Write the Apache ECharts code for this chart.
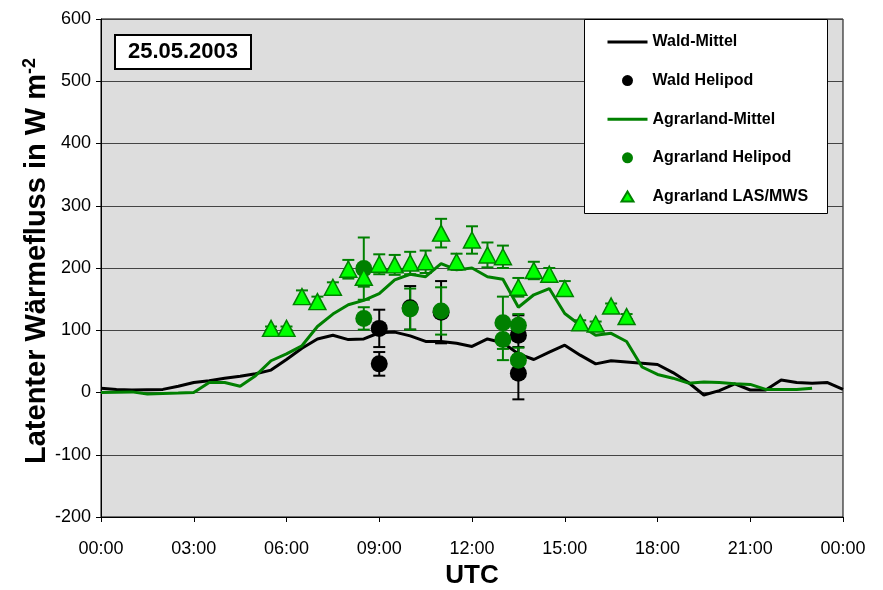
<!DOCTYPE html>
<html>
<head>
<meta charset="utf-8">
<script src="https://cdn.jsdelivr.net/npm/echarts@6/dist/echarts.min.js"></script>
<style>html,body{margin:0;padding:0;background:#fff}#c{width:883px;height:590px}</style>
</head>
<body>
<div id="c"></div>
<script>
// ---------- data ----------
const timeLabels = ['00:00','00:30','01:00','01:30','02:00','02:30','03:00','03:30','04:00','04:30',
  '05:00','05:30','06:00','06:30','07:00','07:30','08:00','08:30','09:00','09:30',
  '10:00','10:30','11:00','11:30','12:00','12:30','13:00','13:30','14:00','14:30',
  '15:00','15:30','16:00','16:30','17:00','17:30','18:00','18:30','19:00','19:30',
  '20:00','20:30','21:00','21:30','22:00','22:30','23:00','23:30','24:00'];
const waldMittel = [7,5,4,4.5,5,10,16,19,23,26,
  30,36,53,71,86,92,85,86,96,97,
  91,82,82,79,74,86,80,62,53,65,
  76,60,46,51,49,47,45,32,16,-4,
  3,14,4,4,20,16,15,16,5];
const agrarMittel = [0,0.5,1,-2.5,-1.5,-1,0,16,16,10,
  27,51,62,75,106,126,141,148,159,181,
  190,186,207,197,200,186,182,137,157,167,
  127,108,92,95,82,41,29,23,15,17,
  16,14,13,5,5,5,7,null,6];

const waldHeliTimes = ['09:00','09:00','10:00','11:00','13:30','13:30'];
const waldHeliValues = [103,46,136,129,92,31];
const waldHeliErr = [30,19,35,50,32,42];

const agrarHeliTimes = ['08:30','08:30','10:00','11:00','13:00','13:00','13:30','13:30'];
const agrarHeliValues = [199,119,134,131,112,85,108,52];
const agrarHeliErr = [50,18,33,38,42,33,18,20];

const lasTimes = ['05:30','06:00','06:30','07:00','07:30','08:00','08:30','09:00','09:30','10:00',
  '10:30','11:00','11:30','12:00','12:30','13:00','13:30','14:00','14:30','15:00',
  '15:30','16:00','16:30','17:00'];
const lasValues = [103,103,154,146,169,198,185,206,205,208,
  210,256,210,245,221,218,169,196,190,167,
  112,110,139,122];
const lasErr = [3,3,10,8,8,15,15,16,16,18,
  18,23,13,22,20,18,15,14,10,12,
  4,4,4,4];

const yTicks = [-200,-100,0,100,200,300,400,500,600];
const xTickLabels = ['00:00','03:00','06:00','09:00','12:00','15:00','18:00','21:00','00:00'];

// ---------- helpers ----------
const toH = t => { const p = t.split(':'); return parseInt(p[0],10) + parseInt(p[1],10)/60; };
const FONT = "'Liberation Sans', Arial, sans-serif";
const DKGREEN = '#008000';

function errSeries(times, vals, errs, color) {
  return {
    type: 'custom', silent: true, z: 2,
    renderItem: function (params, api) {
      const x = api.value(0), y = api.value(1), e = api.value(2);
      const t = api.coord([x, y + e]), b = api.coord([x, y - e]);
      const hw = 6;
      const st = { stroke: color, lineWidth: 2 };
      return { type: 'group', children: [
        { type: 'line', shape: { x1: t[0], y1: t[1], x2: b[0], y2: b[1] }, style: st },
        { type: 'line', shape: { x1: t[0]-hw, y1: t[1], x2: t[0]+hw, y2: t[1] }, style: st },
        { type: 'line', shape: { x1: b[0]-hw, y1: b[1], x2: b[0]+hw, y2: b[1] }, style: st }
      ]};
    },
    encode: { x: 0, y: 1 },
    data: times.map((t, i) => [toH(t), vals[i], errs[i]])
  };
}

const chart = echarts.init(document.getElementById('c'), null, { renderer: 'canvas' });
chart.setOption({
  animation: false,
  backgroundColor: '#ffffff',
  textStyle: { fontFamily: FONT },
  grid: { left: 101, top: 19, right: 40, bottom: 73, outerBoundsMode: 'none', containLabel: false,
    show: true, backgroundColor: '#DDDDDD', borderColor: '#000', borderWidth: 1 },
  xAxis: {
    type: 'value', min: 0, max: 24, interval: 3,
    name: 'UTC', nameLocation: 'middle', nameGap: 46, nameMoveOverlap: false,
    nameTextStyle: { fontFamily: FONT, fontSize: 26, fontWeight: 'bold', color: '#000' },
    axisLine: { show: true, onZero: false, lineStyle: { color: '#000', width: 1 } },
    axisTick: { show: true, inside: false, length: 5, lineStyle: { color: '#000' } },
    axisLabel: { fontFamily: FONT, fontSize: 18, color: '#000', margin: 23,
      formatter: v => xTickLabels[Math.round(v / 3)] },
    splitLine: { show: false }
  },
  yAxis: {
    type: 'value', min: yTicks[0], max: yTicks[yTicks.length-1], interval: 100,
    name: 'Latenter Wärmefluss in W m{sup|-2}', nameLocation: 'middle', nameGap: 48, nameRotate: 90,
    nameMoveOverlap: false,
    nameTextStyle: { fontFamily: FONT, fontSize: 29, fontWeight: 'bold', color: '#000', padding: [0, 0, 0, 14],
      rich: { sup: { fontFamily: FONT, fontSize: 18, fontWeight: 'bold', color: '#000', verticalAlign: 'top', padding: [0,0,14,0] } } },
    axisLine: { show: true, lineStyle: { color: '#000', width: 1 } },
    axisTick: { show: true, inside: false, length: 5, lineStyle: { color: '#000' } },
    axisLabel: { fontFamily: FONT, fontSize: 18, color: '#000', margin: 10 },
    splitLine: { show: true, lineStyle: { color: '#444', width: 1 } }
  },
  legend: {
    orient: 'vertical', left: 606, top: 34, z: 20, padding: 0,
    itemWidth: 40, itemHeight: 11, itemGap: 22.6,
    lineStyle: { width: 3 },
    textStyle: { fontFamily: FONT, fontSize: 16, fontWeight: 'bold', color: '#000', lineHeight: 16 },
    data: [
      { name: 'Wald-Mittel', itemStyle: { opacity: 0 } },
      { name: 'Wald Helipod' },
      { name: 'Agrarland-Mittel', itemStyle: { opacity: 0 } },
      { name: 'Agrarland Helipod' },
      { name: 'Agrarland LAS/MWS', icon: 'path://M0,0 M40,11 M14,10.5 L20,0.5 L26,10.5 Z' }
    ]
  },
  graphic: [
    { type: 'rect', z: 10, shape: { x: 584.5, y: 19.5, width: 243, height: 194 },
      style: { fill: '#fff', stroke: '#000', lineWidth: 1 } },
    { type: 'rect', z: 10, shape: { x: 115, y: 35, width: 136, height: 34 },
      style: { fill: '#fff', stroke: '#000', lineWidth: 2 } },
    { type: 'text', z: 11, x: 183, y: 52,
      style: { text: '25.05.2003', fontFamily: FONT, fontSize: 22, fontWeight: 'bold', fill: '#000', align: 'center', verticalAlign: 'middle' } }
  ],
  series: [
    { name: 'Wald-Mittel', type: 'line', symbol: 'none', z: 2,
      lineStyle: { color: '#000', width: 3 }, itemStyle: { color: '#000' },
      data: timeLabels.map((t, i) => [toH(t), waldMittel[i]]) },
    { name: 'Agrarland-Mittel', type: 'line', symbol: 'none', z: 2, connectNulls: false,
      lineStyle: { color: DKGREEN, width: 3 }, itemStyle: { color: DKGREEN },
      data: timeLabels.map((t, i) => [toH(t), agrarMittel[i]]) },
    errSeries(waldHeliTimes, waldHeliValues, waldHeliErr, '#000'),
    { name: 'Wald Helipod', type: 'scatter', symbol: 'circle', symbolSize: 17, z: 3,
      itemStyle: { color: '#000', opacity: 1 },
      data: waldHeliTimes.map((t, i) => [toH(t), waldHeliValues[i]]) },
    errSeries(agrarHeliTimes, agrarHeliValues, agrarHeliErr, DKGREEN),
    { name: 'Agrarland Helipod', type: 'scatter', symbol: 'circle', symbolSize: 17, z: 3,
      itemStyle: { color: DKGREEN, opacity: 1 },
      data: agrarHeliTimes.map((t, i) => [toH(t), agrarHeliValues[i]]) },
    errSeries(lasTimes, lasValues, lasErr, DKGREEN),
    { name: 'Agrarland LAS/MWS', type: 'scatter', symbol: 'triangle', symbolSize: [17, 16], z: 3,
      itemStyle: { color: '#00FF00', borderColor: DKGREEN, borderWidth: 1.5, opacity: 1 },
      data: lasTimes.map((t, i) => [toH(t), lasValues[i]]) }
  ]
});
</script>
</body>
</html>
